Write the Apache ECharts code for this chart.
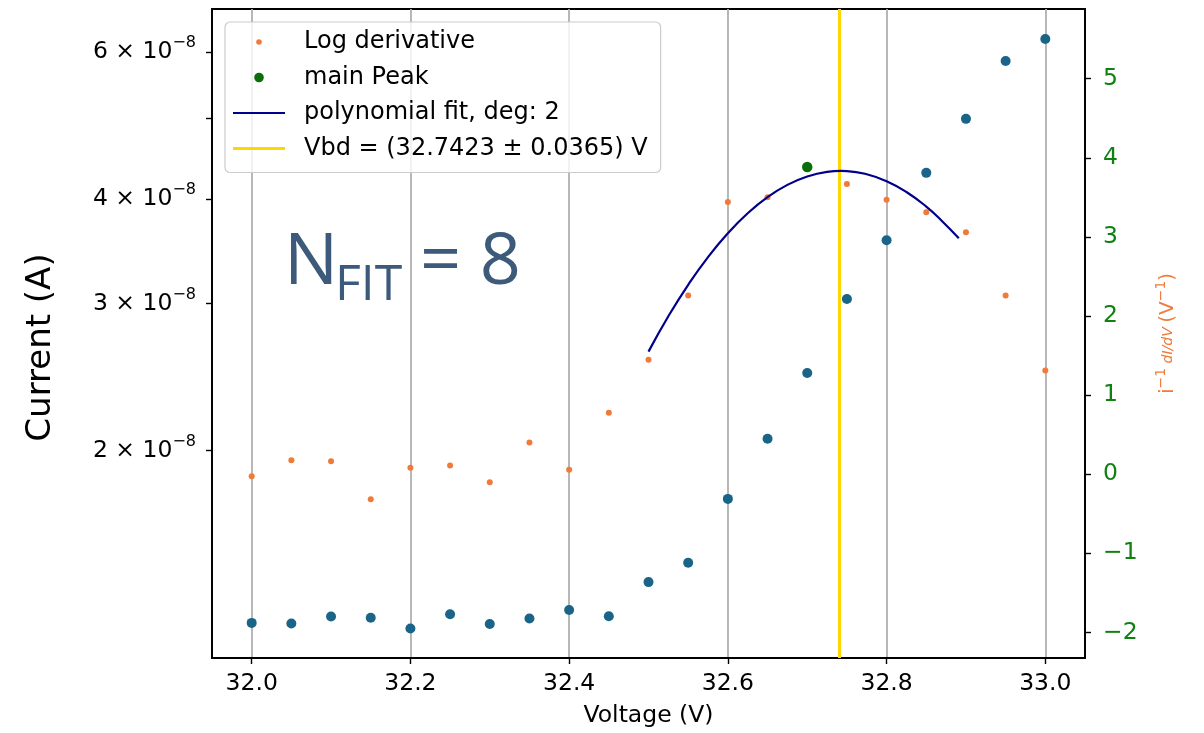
<!DOCTYPE html>
<html>
<head>
<meta charset="utf-8">
<script src="https://cdn.jsdelivr.net/npm/echarts@6/dist/echarts.min.js"></script>
<style>
  html, body { margin: 0; padding: 0; background: #fff; }
  #chart { width: 1204px; height: 733px; }
</style>
</head>
<body>
<div id="chart"></div>
<script>
// Bias voltage steps (V)
const voltages = [32.00, 32.05, 32.10, 32.15, 32.20, 32.25, 32.30, 32.35, 32.40, 32.45,
                  32.50, 32.55, 32.60, 32.65, 32.70, 32.75, 32.80, 32.85, 32.90, 32.95, 33.00];
// Measured current (A)
const current = [1.243e-8, 1.241e-8, 1.265e-8, 1.261e-8, 1.224e-8, 1.273e-8, 1.239e-8, 1.258e-8, 1.288e-8, 1.266e-8,
                 1.391e-8, 1.467e-8, 1.750e-8, 2.066e-8, 2.477e-8, 3.038e-8, 3.572e-8, 4.302e-8, 4.993e-8, 5.858e-8, 6.224e-8];
// Logarithmic derivative i^-1 dI/dV (1/V)
const logDerivative = [-0.024, 0.178, 0.165, -0.315, 0.081, 0.110, -0.100, 0.401, 0.056, 0.776,
                       1.446, 2.260, 3.440, 3.500, 3.884, 3.670, 3.471, 3.312, 3.059, 2.258, 1.310];
// Main peak of the log derivative
const peakVoltage = 32.70;
const peakValue = 3.884;
// Quadratic fit around the peak
const fitVoltages = [32.50, 32.525, 32.55, 32.575, 32.60, 32.625, 32.65, 32.675, 32.70, 32.725,
                     32.7423, 32.75, 32.775, 32.80, 32.825, 32.85, 32.87, 32.891];
const fitValues = [1.550, 1.997, 2.395, 2.745, 3.046, 3.299, 3.503, 3.658, 3.764, 3.822,
                   3.834, 3.832, 3.792, 3.705, 3.568, 3.383, 3.199, 2.983];
// Breakdown voltage
const vbd = 32.7423;
const vbdLabel = 'Vbd = (32.7423 \u00b1 0.0365) V';

// Axis ticks
const xTicks = [32.0, 32.2, 32.4, 32.6, 32.8, 33.0];
const currentTicks = [2e-8, 3e-8, 4e-8, 5e-8, 6e-8];
const currentLabelTicks = [2e-8, 3e-8, 4e-8, 6e-8];
const derivTicks = [-2, -1, 0, 1, 2, 3, 4, 5];

const FONT = 'DejaVu Sans';
const TICK_FS = 23.5;
const ORANGE = '#f07a3a';
const BLUE = '#1a6487';
const GREEN = '#0a6e0a';
const TICK_GREEN = '#108010';
const NAVY = '#00008b';
const GOLD = '#ffd700';
const NOTE = '#3d5a7a';

const chart = echarts.init(document.getElementById('chart'), null, { renderer: 'canvas' });

// "m × 10^e" label with a raised exponent
function sciLabel(v) {
  const exp = Math.floor(Math.log10(v) + 1e-9);
  const mant = Math.round(v / Math.pow(10, exp));
  return '{b|' + mant + ' \u00d7 10}{s|\u2212' + Math.abs(exp) + '}';
}

const option = {
  animation: false,
  backgroundColor: '#fff',
  textStyle: { fontFamily: FONT },
  grid: {
    left: 212, right: 119, top: 9, bottom: 75,
    show: true, borderColor: '#000', borderWidth: 1.8, backgroundColor: 'transparent'
  },
  xAxis: {
    type: 'value', min: 31.95, max: 33.05,
    name: 'Voltage (V)', nameLocation: 'middle', nameGap: 46,
    nameTextStyle: { fontSize: TICK_FS, color: '#000', fontFamily: FONT },
    axisLine: { show: true, onZero: false, lineStyle: { color: '#000', width: 1.8 } },
    axisTick: { show: true, length: 6, inside: false, customValues: xTicks, lineStyle: { color: '#000', width: 1.4 } },
    axisLabel: { customValues: xTicks, fontSize: TICK_FS, color: '#000', margin: 14, fontFamily: FONT,
                 formatter: v => v.toFixed(1) },
    splitLine: { show: true, lineStyle: { color: '#b0b0b0', width: 1.8 } }
  },
  yAxis: [
    {
      type: 'log', logBase: 10, min: 1.1282e-8, max: 6.761e-8, position: 'left',
      name: 'Current (A)', nameLocation: 'middle', nameGap: 154, nameRotate: 90,
      nameTextStyle: { fontSize: 34, color: '#000', fontFamily: FONT, padding: [0, 28, 0, 0] },
      axisLine: { show: true, onZero: false, lineStyle: { color: '#000', width: 1.8 } },
      axisTick: { show: true, length: 6, customValues: currentTicks, lineStyle: { color: '#000', width: 1.4 } },
      axisLabel: {
        customValues: currentLabelTicks, color: '#000', margin: 16, fontFamily: FONT,
        formatter: sciLabel,
        rich: {
          b: { fontSize: TICK_FS, lineHeight: 34, color: '#000', fontFamily: FONT },
          s: { fontSize: 16, lineHeight: 16, verticalAlign: 'top', color: '#000', fontFamily: FONT }
        }
      },
      minorTick: { show: false },
      splitLine: { show: false }
    },
    {
      type: 'value', min: -2.323, max: 5.881, position: 'right',
      name: '{n|i}{sup|\u22121}{f| dI/dV }{n|(V}{sup|\u22121}{n|)}',
      nameLocation: 'middle', nameGap: 69, nameRotate: 90,
      nameTextStyle: {
        color: ORANGE, fontFamily: FONT,
        rich: {
          n: { fontSize: 20, lineHeight: 28, color: ORANGE, fontFamily: FONT },
          sup: { fontSize: 14, lineHeight: 14, verticalAlign: 'top', color: ORANGE, fontFamily: FONT },
          f: { fontSize: 14, lineHeight: 28, color: ORANGE, fontFamily: FONT, fontStyle: 'italic' }
        }
      },
      axisLine: { show: true, onZero: false, lineStyle: { color: '#000', width: 1.8 } },
      axisTick: { show: true, length: 6, customValues: derivTicks, lineStyle: { color: '#000', width: 1.4 } },
      axisLabel: {
        customValues: derivTicks, fontSize: TICK_FS, color: TICK_GREEN, margin: 18, fontFamily: FONT,
        formatter: v => (v < 0 ? '\u2212' + Math.abs(v) : String(v))
      },
      splitLine: { show: false }
    }
  ],
  legend: {
    left: 225, top: 22, orient: 'vertical',
    padding: [8, 13, 12, 8], itemGap: 11.5, itemWidth: 52, itemHeight: 14,
    backgroundColor: 'rgba(255,255,255,0.8)', borderColor: '#cccccc', borderWidth: 1.2, borderRadius: 5,
    textStyle: { fontSize: 24, color: '#000', fontFamily: FONT, padding: [0, 0, 0, 14] },
    data: [
      { name: 'Log derivative', icon: 'path://M0,0M52,14M23.2,7a2.8,2.8 0 1,0 5.6,0a2.8,2.8 0 1,0 -5.6,0' },
      { name: 'main Peak', icon: 'path://M0,0M52,14M21.2,7a4.8,4.8 0 1,0 9.6,0a4.8,4.8 0 1,0 -9.6,0' },
      { name: 'polynomial fit, deg: 2', icon: 'path://M0,0M52,14M0,6h52v2h-52z' },
      { name: vbdLabel, icon: 'path://M0,0M52,14M0,5.5h52v3h-52z' }
    ],
    selectedMode: false
  },
  series: [
    {
      name: vbdLabel, type: 'line', yAxisIndex: 1, data: [], symbol: 'none',
      color: GOLD, lineStyle: { color: GOLD, width: 3 }, z: 2,
      markLine: {
        silent: true, symbol: 'none', label: { show: false },
        lineStyle: { color: GOLD, width: 3, type: 'solid' },
        data: [{ xAxis: vbd }]
      }
    },
    {
      name: 'Current', type: 'scatter', yAxisIndex: 0, symbolSize: 10, z: 4,
      itemStyle: { color: BLUE, opacity: 1 },
      data: voltages.map((v, i) => [v, current[i]])
    },
    {
      name: 'Log derivative', type: 'scatter', yAxisIndex: 1, symbolSize: 6, z: 5,
      itemStyle: { color: ORANGE, opacity: 1 },
      data: voltages.map((v, i) => [v, logDerivative[i]])
    },
    {
      name: 'main Peak', type: 'scatter', yAxisIndex: 1, symbolSize: 10.5, z: 6,
      itemStyle: { color: GREEN, opacity: 1 },
      data: [[peakVoltage, peakValue]]
    },
    {
      name: 'polynomial fit, deg: 2', type: 'line', yAxisIndex: 1, symbol: 'none', smooth: true, z: 7,
      color: NAVY, lineStyle: { color: NAVY, width: 2.2 },
      data: fitVoltages.map((v, i) => [v, fitValues[i]])
    }
  ],
  graphic: [
    {
      type: 'text', left: 284, top: 227, z: 100,
      style: { text: 'N', fontSize: 72, fill: NOTE, fontFamily: 'Open Sans' }
    },
    {
      type: 'text', left: 335, top: 261, z: 100,
      style: { text: 'FIT', fontSize: 50, fill: NOTE, fontFamily: 'Open Sans' }
    },
    {
      type: 'text', left: 420, top: 227, z: 100,
      style: { text: '= 8', fontSize: 72, fill: NOTE, fontFamily: 'Open Sans' }
    }
  ]
};

chart.setOption(option);
</script>
</body>
</html>
